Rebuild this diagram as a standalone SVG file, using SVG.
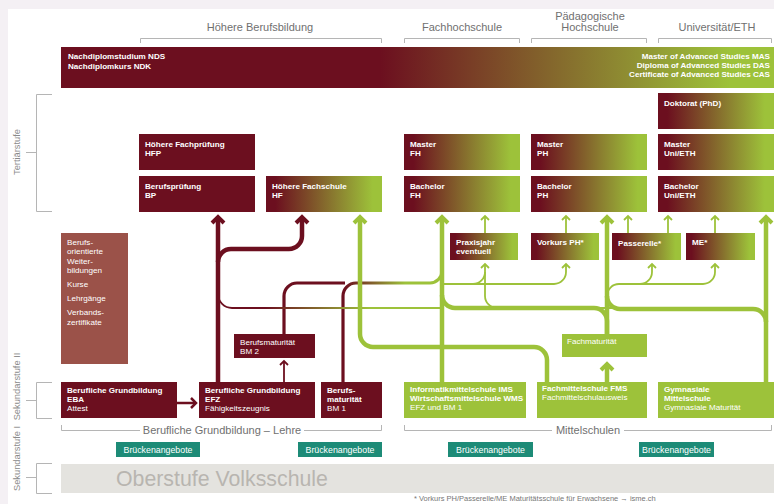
<svg xmlns="http://www.w3.org/2000/svg" width="774" height="504" viewBox="0 0 774 504">
<defs>
<style>
.r{fill:#6c0f1f}
.g{fill:#9dc23a}
.gr{fill:url(#gb)}
.t{font-family:"Liberation Sans",Arial,sans-serif;font-size:8.1px;fill:#fff}
.b{font-weight:bold}
.h{font-family:"Liberation Sans",Arial,sans-serif;font-size:11px;fill:#707070;text-anchor:middle}
.v{font-family:"Liberation Sans",Arial,sans-serif;font-size:9.3px;fill:#8a8a8a;text-anchor:middle}
.br{fill:none;stroke:#b5b5b5;stroke-width:1}
.bt{fill:#1d8b77}
.bx{font-family:"Liberation Sans",Arial,sans-serif;font-size:8.8px;fill:#fff;text-anchor:middle}
.rk{fill:none;stroke:#6c0f1f;stroke-width:4.5}
.gk{fill:none;stroke:#9dc23a;stroke-width:4.5}
.gt{fill:none;stroke:#9dc23a;stroke-width:1.8}
.rt{fill:none;stroke:#6c0f1f;stroke-width:1.8}
</style>
<linearGradient id="gb" x1="0" y1="0" x2="1" y2="0"><stop offset="0" stop-color="#6c0f1f"/><stop offset="0.08" stop-color="#6c0f1f"/><stop offset="0.92" stop-color="#9dc23a"/></linearGradient>
<linearGradient id="gnds" gradientUnits="userSpaceOnUse" x1="380" y1="0" x2="730" y2="0"><stop offset="0" stop-color="#6c0f1f"/><stop offset="1" stop-color="#9dc23a"/></linearGradient>
<linearGradient id="gBM" gradientUnits="userSpaceOnUse" x1="345" y1="0" x2="405" y2="0"><stop offset="0" stop-color="#6c0f1f"/><stop offset="1" stop-color="#9dc23a"/></linearGradient>
<linearGradient id="gEFZ" gradientUnits="userSpaceOnUse" x1="265" y1="0" x2="370" y2="0"><stop offset="0" stop-color="#6c0f1f"/><stop offset="1" stop-color="#9dc23a"/></linearGradient>
<marker id="ar" markerUnits="userSpaceOnUse" orient="auto" overflow="visible" refX="0" refY="0" markerWidth="1" markerHeight="1"><path d="M-6,-6 L0,0 L-6,6" fill="none" stroke="#6c0f1f" stroke-width="4"/></marker>
<marker id="ag" markerUnits="userSpaceOnUse" orient="auto" overflow="visible" refX="0" refY="0" markerWidth="1" markerHeight="1"><path d="M-6,-6 L0,0 L-6,6" fill="none" stroke="#9dc23a" stroke-width="4"/></marker>
<marker id="agt" markerUnits="userSpaceOnUse" orient="auto" overflow="visible" refX="0" refY="0" markerWidth="1" markerHeight="1"><path d="M-4,-4 L0,0 L-4,4" fill="none" stroke="#9dc23a" stroke-width="1.8"/></marker>
<marker id="art" markerUnits="userSpaceOnUse" orient="auto" overflow="visible" refX="0" refY="0" markerWidth="1" markerHeight="1"><path d="M-4,-4 L0,0 L-4,4" fill="none" stroke="#6c0f1f" stroke-width="1.8"/></marker>
<marker id="arm" markerUnits="userSpaceOnUse" orient="auto" overflow="visible" refX="0" refY="0" markerWidth="1" markerHeight="1"><path d="M-5,-5 L0,0 L-5,5" fill="none" stroke="#6c0f1f" stroke-width="2.5"/></marker>
</defs>

<rect x="0" y="0" width="774" height="504" fill="#f4f0f4"/>
<rect x="8" y="9" width="766" height="495" fill="#fff"/>

<g id="headers">
<text class="h" x="260" y="31">Höhere Berufsbildung</text>
<text class="h" x="462" y="31">Fachhochschule</text>
<text class="h" x="590" y="19.5">Pädagogische</text>
<text class="h" x="590" y="31">Hochschule</text>
<text class="h" x="717" y="31">Universität/ETH</text>
<path class="br" d="M140.5,43 V38.5 H381.5 V43 M404.5,43 V38.5 H519.5 V43 M531.5,43 V38.5 H646.5 V43 M658.5,43 V38.5 H771.5 V43"/>
</g>

<g id="levels">
<path class="br" d="M52,94.5 H36.5 V211.5 H52 M26,152.5 H36.5"/>
<text class="v" transform="translate(19.5,152) rotate(-90)">Tertiärstufe</text>
<path class="br" d="M52,382.5 H36.5 V418.5 H52 M26,400.5 H36.5"/>
<text class="v" transform="translate(19.5,386.5) rotate(-90)">Sekundarstufe II</text>
<path class="br" d="M52,463.5 H36.5 V493.5 H52 M26,477.5 H36.5"/>
<text class="v" transform="translate(19.5,458.5) rotate(-90)">Sekundarstufe I</text>
</g>

<g id="connectors">
<path class="rk" d="M218,382 V217" marker-end="url(#ar)"/>
<path class="rk" d="M218,262 A13,13 0 0 1 231,249 H289 A13,13 0 0 0 302,236 V217" marker-end="url(#ar)"/>
<path fill="none" stroke="#6c0f1f" stroke-width="3.2" d="M284,334 V296 A13,13 0 0 1 297,283 H345"/>
<path fill="none" stroke="url(#gBM)" stroke-width="3.2" d="M343,382 V296 A13,13 0 0 1 356,283 H430 A12,12 0 0 0 442,271"/>
<path class="rt" d="M284,382 V361" marker-end="url(#art)"/>
<path fill="none" stroke="url(#gEFZ)" stroke-width="1.8" d="M218,294 A14,14 0 0 0 232,308 H442"/>
<path fill="none" stroke="#6c0f1f" stroke-width="2.5" d="M177,403 H196" marker-end="url(#arm)"/>
<path class="gk" d="M442,382 V217" marker-end="url(#ag)"/>
<path class="gk" d="M547,382 V360 A13,13 0 0 0 534,347 H373 A13,13 0 0 1 360,334 V217" marker-end="url(#ag)"/>
<path class="gk" d="M607,334 V217" marker-end="url(#ag)"/>
<path class="gk" d="M607,382 V364" marker-end="url(#ag)"/>
<path class="gk" d="M607,334 V321 A13,13 0 0 0 594,308 H455 A13,13 0 0 1 442,295"/>
<path class="gk" d="M766,382 V217" marker-end="url(#ag)"/>
<path class="gk" d="M766,322 A13,13 0 0 0 753,309 H620 A13,13 0 0 1 607,296"/>
<path class="gt" d="M485,233 V216" marker-end="url(#agt)"/>
<path class="gt" d="M566,233 V216" marker-end="url(#agt)"/>
<path class="gt" d="M628,233 V216" marker-end="url(#agt)"/>
<path class="gt" d="M668,233 V216" marker-end="url(#agt)"/>
<path class="gt" d="M715,233 V216" marker-end="url(#agt)"/>
<path class="gt" d="M620,308 H497 A12,12 0 0 1 485,296 V264" marker-end="url(#agt)"/>
<path class="gt" d="M440,284 H473 A12,12 0 0 0 485,272"/>
<path class="gt" d="M473,284 H554 A12,12 0 0 0 566,272 V264" marker-end="url(#agt)"/>
<path class="gt" d="M607,296 A12,12 0 0 1 619,284 H640 A12,12 0 0 0 652,272 V264" marker-end="url(#agt)"/>
<path class="gt" d="M640,284 H703 A12,12 0 0 0 715,272 V264" marker-end="url(#agt)"/>
</g>

<g id="nds">
<rect x="61" y="47" width="713" height="41" fill="url(#gnds)"/>
<text class="t b" x="68" y="59">Nachdiplomstudium NDS</text>
<text class="t b" x="68" y="68.5">Nachdiplomkurs NDK</text>
<text class="t b" x="770" y="58.5" text-anchor="end">Master of Advanced Studies MAS</text>
<text class="t b" x="770" y="67.8" text-anchor="end">Diploma of Advanced Studies DAS</text>
<text class="t b" x="770" y="77.1" text-anchor="end">Certificate of Advanced Studies CAS</text>
</g>

<g id="doktorat"><rect class="gr" x="658" y="93" width="116" height="36"/><text class="t b" x="664" y="105.5">Doktorat (PhD)</text></g>
<g id="hfp"><rect class="r" x="139" y="134" width="116" height="36"/><text class="t b" x="145" y="146.5">Höhere Fachprüfung</text><text class="t b" x="145" y="156">HFP</text></g>
<g id="bp"><rect class="r" x="139" y="176" width="116" height="36"/><text class="t b" x="145" y="188.5">Berufsprüfung</text><text class="t b" x="145" y="198">BP</text></g>
<g id="hf"><rect class="gr" x="266" y="176" width="116" height="36"/><text class="t b" x="272" y="188.5">Höhere Fachschule</text><text class="t b" x="272" y="198">HF</text></g>
<g id="masterfh"><rect class="gr" x="404" y="134" width="116" height="36"/><text class="t b" x="410" y="146.5">Master</text><text class="t b" x="410" y="156">FH</text></g>
<g id="bachelorfh"><rect class="gr" x="404" y="176" width="116" height="36"/><text class="t b" x="410" y="188.5">Bachelor</text><text class="t b" x="410" y="198">FH</text></g>
<g id="masterph"><rect class="gr" x="531" y="134" width="116" height="36"/><text class="t b" x="537" y="146.5">Master</text><text class="t b" x="537" y="156">PH</text></g>
<g id="bachelorph"><rect class="gr" x="531" y="176" width="116" height="36"/><text class="t b" x="537" y="188.5">Bachelor</text><text class="t b" x="537" y="198">PH</text></g>
<g id="masteruni"><rect class="gr" x="658" y="134" width="116" height="36"/><text class="t b" x="664" y="146.5">Master</text><text class="t b" x="664" y="156">Uni/ETH</text></g>
<g id="bacheloruni"><rect class="gr" x="658" y="176" width="116" height="36"/><text class="t b" x="664" y="188.5">Bachelor</text><text class="t b" x="664" y="198">Uni/ETH</text></g>

<g id="praxisjahr"><rect class="gr" x="450" y="233" width="68" height="27"/><text class="t b" x="456" y="245">Praxisjahr</text><text class="t b" x="456" y="254.3">eventuell</text></g>
<g id="vorkurs"><rect class="gr" x="531" y="233" width="68" height="27"/><text class="t b" x="537" y="245">Vorkurs PH*</text></g>
<g id="passerelle"><rect class="gr" x="612" y="233" width="69" height="27"/><text class="t b" x="618" y="246">Passerelle*</text></g>
<g id="me"><rect class="gr" x="686" y="233" width="69" height="27"/><text class="t b" x="692" y="245">ME*</text></g>

<g id="weiterbildung"><rect x="61" y="233" width="67" height="131" fill="#9b5249"/>
<text class="t" x="67" y="245">Berufs-</text><text class="t" x="67" y="254.3">orientierte</text><text class="t" x="67" y="263.6">Weiter-</text><text class="t" x="67" y="272.9">bildungen</text>
<text class="t" x="67" y="287">Kurse</text><text class="t" x="67" y="301.3">Lehrgänge</text><text class="t" x="67" y="315.3">Verbands-</text><text class="t" x="67" y="324.6">zertifikate</text></g>

<g id="bm2"><rect class="r" x="234" y="334" width="81" height="24"/><text class="t" x="240" y="344.5">Berufsmaturität</text><text class="t" x="240" y="353.5">BM 2</text></g>
<g id="fachmaturitaet"><rect class="g" x="562" y="334" width="85" height="23"/><text class="t" x="567" y="344">Fachmaturität</text></g>

<g id="eba"><rect class="r" x="61" y="382" width="116" height="36"/><text class="t b" x="67" y="392.7">Berufliche Grundbildung</text><text class="t b" x="67" y="401.5">EBA</text><text class="t" x="67" y="410.5">Attest</text></g>
<g id="efz"><rect class="r" x="199" y="382" width="116" height="36"/><text class="t b" x="205" y="392.7">Berufliche Grundbildung</text><text class="t b" x="205" y="401.5">EFZ</text><text class="t" x="205" y="410.5">Fähigkeitszeugnis</text></g>
<g id="bm1"><rect class="r" x="321" y="382" width="61" height="36"/><text class="t b" x="327" y="392.7">Berufs-</text><text class="t b" x="327" y="401.5">maturität</text><text class="t" x="327" y="410.5">BM 1</text></g>
<g id="ims"><rect class="g" x="404" y="382" width="122" height="36"/><text class="t b" x="410" y="391.7">Informatikmittelschule IMS</text><text class="t b" x="410" y="400.7">Wirtschaftsmittelschule WMS</text><text class="t" x="410" y="410">EFZ und BM 1</text></g>
<g id="fms"><rect class="g" x="537" y="382" width="110" height="36"/><text class="t b" x="542" y="391">Fachmittelschule FMS</text><text class="t" x="542" y="399.5">Fachmittelschulausweis</text></g>
<g id="gym"><rect class="g" x="658" y="382" width="116" height="36"/><text class="t b" x="664" y="391.7">Gymnasiale</text><text class="t b" x="664" y="400.7">Mittelschule</text><text class="t" x="664" y="410">Gymnasiale Maturität</text></g>

<g id="lehre">
<path class="br" d="M61.5,425 V430.5 H140 M304,430.5 H381.5 V425"/>
<text class="h" x="222" y="434">Berufliche Grundbildung – Lehre</text>
</g>
<g id="mittelschulen">
<path class="br" d="M404.5,425 V430.5 H552 M624,430.5 H771.5 V425"/>
<text class="h" x="588" y="434">Mittelschulen</text>
</g>

<g id="bruecke1"><rect class="bt" x="116" y="442" width="84" height="15"/><text class="bx" x="158" y="452.5">Brückenangebote</text></g>
<g id="bruecke2"><rect class="bt" x="298" y="442" width="84" height="15"/><text class="bx" x="340" y="452.5">Brückenangebote</text></g>
<g id="bruecke3"><rect class="bt" x="448" y="442" width="85" height="15"/><text class="bx" x="490.5" y="452.5">Brückenangebote</text></g>
<g id="bruecke4"><rect class="bt" x="639" y="442" width="75" height="15"/><text class="bx" x="676.5" y="452.5">Brückenangebote</text></g>

<g id="volksschule"><rect x="61" y="464" width="713" height="29" fill="#e4e3df"/><text x="116" y="485.5" font-family="Liberation Sans, Arial, sans-serif" font-size="21.3" fill="#b8b5b0">Oberstufe Volksschule</text></g>

<text x="414" y="500.5" font-family="Liberation Sans, Arial, sans-serif" font-size="7.5" fill="#777">* Vorkurs PH/Passerelle/ME Maturitätsschule für Erwachsene → isme.ch</text>
</svg>
